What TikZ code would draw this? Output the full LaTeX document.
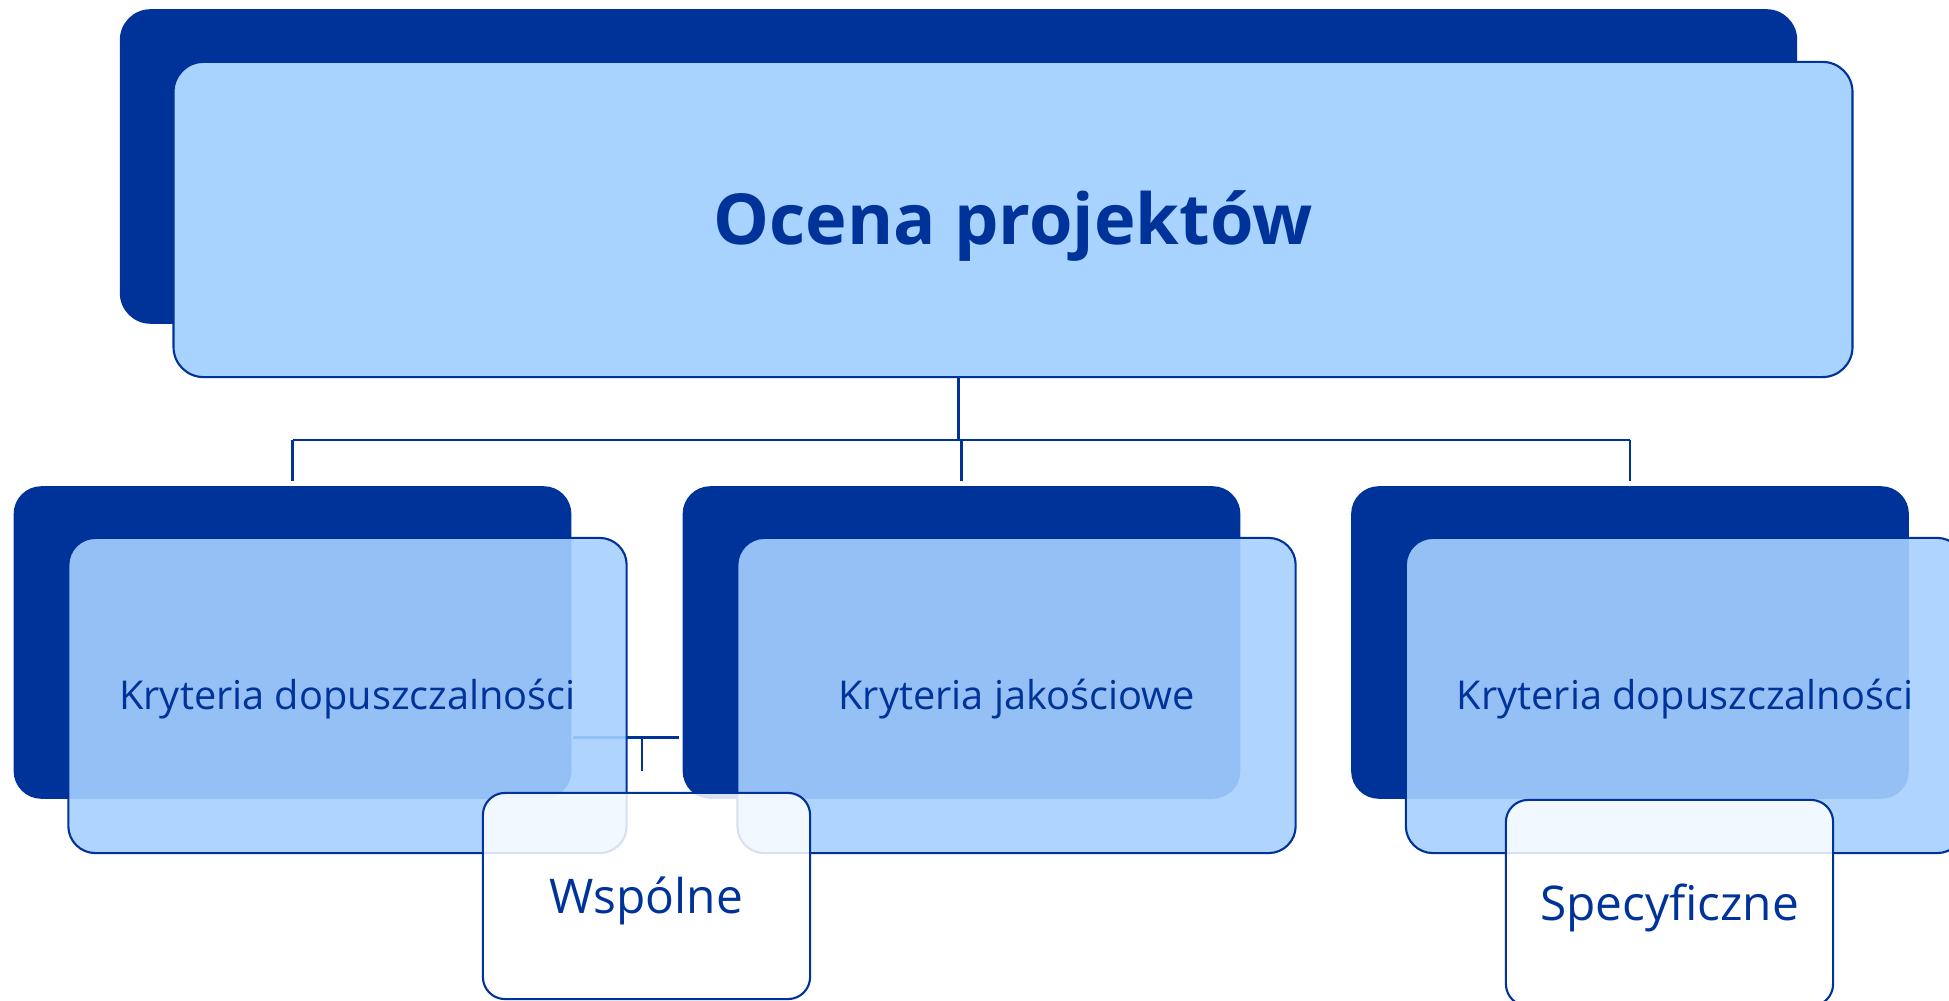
\documentclass[tikz,border=0pt]{standalone}
\usepackage{fontspec}
\setmainfont{Open Sans}
\usetikzlibrary{calc, positioning}

\definecolor{navy}{HTML}{003399}
\definecolor{skyblue}{HTML}{A8D3FF}
\definecolor{paleblue}{HTML}{A6D0FF}

\tikzset{
  back/.style={fill=navy, draw=navy, inner sep=0pt, rounded corners=0.27cm},
  front/.style={draw=navy, line width=0.6pt, inner sep=0pt, rounded corners=0.27cm, text=navy, align=center},
  lowback/.style={back, minimum width=5.56cm, minimum height=3.11cm},
  lowfront/.style={front, fill=paleblue, fill opacity=0.9, text opacity=1,
    minimum width=5.58cm, minimum height=3.15cm, text height=8.1pt, text depth=0pt,
    font=\fontsize{11.3}{13.6}\selectfont},
  note/.style={front, fill=white, fill opacity=0.85, text opacity=1,
    minimum width=3.27cm, minimum height=2.06cm, rounded corners=0.22cm,
    text height=9.7pt, text depth=0pt, font=\fontsize{13.6}{16}\selectfont},
  link/.style={draw=navy, line width=0.6pt}
}

\begin{document}
\begin{tikzpicture}[x=0.01cm, y=-0.01cm]
  \clip (0,0) rectangle (1949,1001);
  % Top box
  \node[back, minimum width=16.75cm, minimum height=3.13cm, rounded corners=0.3cm] (topback) at (958.5,166.5) {};
  \node[front, fill=skyblue, minimum width=16.78cm, minimum height=3.15cm, rounded corners=0.3cm,
    text height=14.3pt, text depth=0pt, font=\fontsize{20}{24}\selectfont\bfseries] (top) at (1013,219.5) {Ocena projektów};
  % Dark boxes of the second level
  \foreach \n/\x in {left/292.5, mid/961.5, right/1630}
    \node[lowback] (back\n) at (\x,642.5) {};
  % Connectors
  \draw[link] (top.south -| topback.south) -- ++(0,62) coordinate (hub);
  \draw[link] (hub -| backleft.north) -- (hub -| backright.north);
  \foreach \n in {left,mid,right}
    \draw[link, shorten >=0.05cm] (hub -| back\n.north) -- (back\n.north);
  \draw[link] ($(backleft.east)+(2,95)$) -- ($(backmid.west)+(-4,95)$);
  \draw[link] ($(backleft.east)+(71,95)$) -- ++(0,34);
  % Light boxes
  \foreach \n/\t in {left/Kryteria dopuszczalności, mid/Kryteria jakościowe, right/Kryteria dopuszczalności}
    \node[lowfront] (front\n) at ($(back\n)+(55,53)$) {\t};
  % Notes
  \node[note] (common) at (646.5,896) {Wspólne};
  \node[note] (specific) at (1669.5,903) {Specyficzne};
\end{tikzpicture}
\end{document}
